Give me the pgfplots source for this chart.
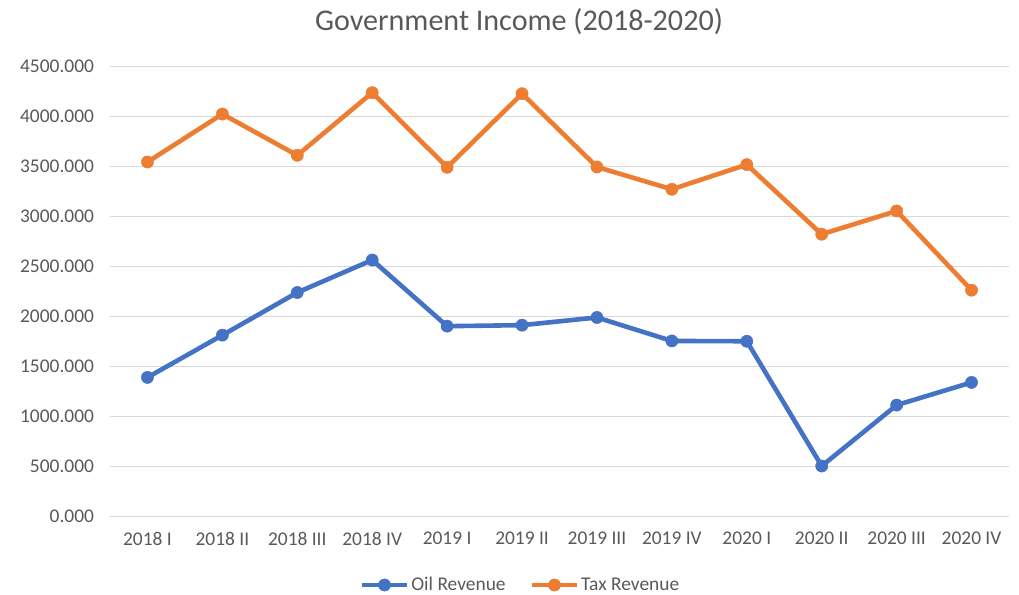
\documentclass[border=0pt]{standalone}
\usepackage{pgfplots}
\pgfplotsset{compat=1.18}
\usepackage{fontspec}
\setmainfont{Carlito}
\definecolor{oilc}{HTML}{4472C4}
\definecolor{taxc}{HTML}{ED7D31}
\definecolor{txt}{HTML}{595959}
\definecolor{gridc}{HTML}{D9D9D9}
\begin{document}
\begin{tikzpicture}
\path[use as bounding box] (0,0) rectangle (1019bp,595bp);
\begin{axis}[
  at={(110bp,78.7bp)}, anchor=south west,
  scale only axis, width=899bp, height=449.6bp,
  xmin=-0.5, xmax=11.5, ymin=0, ymax=4500,
  xtick={0,...,11},
  xticklabels={2018 I,2018 II,2018 III,2018 IV,2019 I,2019 II,2019 III,2019 IV,2020 I,2020 II,2020 III,2020 IV},
  ytick={0,500,...,4500},
  ymajorgrids, grid style={gridc, line width=1.3bp},
  axis line style={draw=none},
  major tick length=0,
  tick label style={font=\fontsize{19.5}{23}\selectfont, text=txt},
  xticklabel style={anchor=north, yshift=-12bp},
  yticklabel style={anchor=east, xshift=-12.5bp},
  /pgf/number format/.cd, fixed, fixed zerofill, precision=3, 1000 sep={}, assume math mode=true,
  /pgfplots/.cd,
  legend columns=2,
  legend style={at={(0.5,0)}, anchor=center, xshift=-39bp, yshift=-68.7bp, draw=none, fill=none,
    font=\fontsize{19.5}{23}\selectfont, text=txt,
    /tikz/every even column/.append style={column sep=22bp},
    /tikz/every odd column/.append style={column sep=0bp},
    nodes={inner xsep=2bp}},
  legend image code/.code={\draw[mark repeat=2,mark phase=2] plot coordinates {(0bp,0bp)(22.5bp,0bp)(45bp,0bp)};},
  every axis plot/.append style={line width=4.6bp, mark=*, mark size=6.1bp},
]
\addplot[color=oilc, mark options={fill=oilc, draw=oilc, line width=0.5bp}] coordinates {
(0,1390)(1,1813)(2,2240)(3,2565)(4,1903)(5,1913)(6,1990)(7,1755)(8,1752)(9,503)(10,1113)(11,1340)};
\addlegendentry{Oil Revenue}
\addplot[color=taxc, mark options={fill=taxc, draw=taxc, line width=0.5bp}] coordinates {
(0,3546)(1,4026)(2,3613)(3,4240)(4,3493)(5,4230)(6,3496)(7,3273)(8,3520)(9,2823)(10,3056)(11,2263)};
\addlegendentry{Tax Revenue}
\end{axis}
\node[text=txt, font=\fontsize{30.2}{36}\selectfont] at (519bp,573bp) {Government Income (2018-2020)};
\end{tikzpicture}
\end{document}
